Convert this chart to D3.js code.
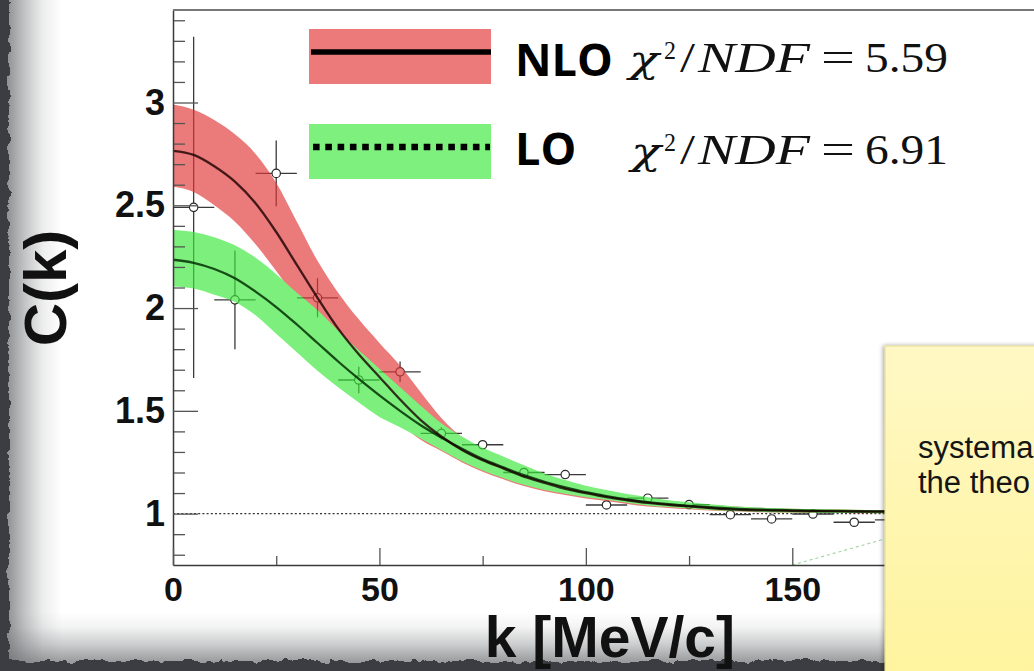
<!DOCTYPE html>
<html>
<head>
<meta charset="utf-8">
<script src="https://cdn.jsdelivr.net/npm/d3@7/dist/d3.min.js"></script>
<style>
  html, body { margin: 0; padding: 0; background: #fff; overflow: hidden; }
  svg { display: block; }
</style>
</head>
<body>
<svg id="chart" width="1034" height="671"></svg>
<script>
// Measured correlation function C(k), 10 MeV/c bins
const kBins = [5, 15, 25, 35, 45, 55, 65, 75, 85, 95, 105, 115, 125, 135, 145, 155, 165, 175];
const cData = [2.49, 2.04, 2.655, 2.05, 1.65, 1.69, 1.39, 1.335, 1.20, 1.19, 1.042, 1.075, 1.044, 0.995, 0.974, 0.998, 0.958, 0.97];
const cErr  = [0.83, 0.24, 0.16, 0.095, 0.065, 0.05, 0.03, 0.02, 0.015, 0.015, 0.012, 0.012, 0.01, 0.01, 0.01, 0.01, 0.01, 0.01];
const kBinHalfWidth = 5;

// Theory predictions sampled every 5 MeV/c
const kTheory = [0, 5, 10, 15, 20, 25, 30, 35, 40, 45, 50, 55, 60, 65, 70, 75, 80, 85, 90, 95,
                 100, 105, 110, 115, 120, 125, 130, 135, 140, 145, 150, 155, 160, 165, 170, 175, 180];
const nloCentral = [2.765, 2.745, 2.69, 2.615, 2.51, 2.37, 2.21, 2.05, 1.90, 1.775,
                    1.665, 1.555, 1.455, 1.375, 1.31, 1.26, 1.22, 1.18, 1.15, 1.12,
                    1.10, 1.08, 1.065, 1.052, 1.042, 1.035, 1.027, 1.021, 1.017, 1.015,
                    1.013, 1.012, 1.011, 1.01, 1.01, 1.01, 1.01];
const nloUpper = [2.99, 2.965, 2.915, 2.845, 2.75, 2.61, 2.42, 2.23, 2.075, 1.945,
                  1.83, 1.72, 1.59, 1.465, 1.372, 1.314, 1.27, 1.225, 1.185, 1.155,
                  1.13, 1.108, 1.09, 1.075, 1.062, 1.052, 1.043, 1.036, 1.031, 1.027,
                  1.024, 1.022, 1.02, 1.019, 1.018, 1.018, 1.018];
const nloLower = [2.59, 2.565, 2.50, 2.42, 2.31, 2.18, 2.04, 1.90, 1.77, 1.645,
                  1.535, 1.44, 1.359, 1.304, 1.249, 1.204, 1.167, 1.134, 1.109, 1.091,
                  1.074, 1.061, 1.047, 1.034, 1.027, 1.021, 1.015, 1.011, 1.008, 1.006,
                  1.004, 1.003, 1.003, 1.002, 1.002, 1.002, 1.002];
const loCentral = [2.235, 2.22, 2.19, 2.145, 2.08, 2.005, 1.92, 1.83, 1.74, 1.655,
                   1.575, 1.50, 1.43, 1.37, 1.315, 1.265, 1.225, 1.187, 1.155, 1.128,
                   1.104, 1.085, 1.069, 1.056, 1.046, 1.038, 1.031, 1.025, 1.021, 1.018,
                   1.016, 1.014, 1.013, 1.012, 1.011, 1.011, 1.011];
const loUpper = [2.38, 2.37, 2.345, 2.305, 2.245, 2.165, 2.075, 1.99, 1.89, 1.795,
                 1.705, 1.615, 1.525, 1.44, 1.375, 1.32, 1.278, 1.235, 1.195, 1.163,
                 1.135, 1.115, 1.095, 1.08, 1.065, 1.055, 1.045, 1.037, 1.031, 1.027,
                 1.024, 1.022, 1.02, 1.019, 1.018, 1.018, 1.018];
const loLower = [2.105, 2.095, 2.065, 2.03, 1.965, 1.875, 1.785, 1.695, 1.615, 1.54,
                 1.47, 1.42, 1.365, 1.31, 1.255, 1.21, 1.173, 1.14, 1.115, 1.097,
                 1.08, 1.067, 1.053, 1.04, 1.032, 1.025, 1.018, 1.013, 1.01, 1.007,
                 1.005, 1.004, 1.003, 1.003, 1.002, 1.002, 1.002];

// Faint dashed guide rising from the k axis
const guideK = [150, 173];
const guideC = [0.75, 0.88];

// Axis ticks
const xMajorTicks = [0, 50, 100, 150];
const xTickLabels = ["0", "50", "100", "150"];
const xMinorTicks = [25, 75, 125, 175];
const yMajorTicks = [1, 1.5, 2, 2.5, 3];
const yTickLabels = ["1", "1.5", "2", "2.5", "3"];
const yMinorTicks = [0.8, 0.9, 1.1, 1.2, 1.3, 1.4, 1.6, 1.7, 1.8, 1.9, 2.1, 2.2, 2.3, 2.4,
                     2.6, 2.7, 2.8, 2.9, 3.1, 3.2, 3.3, 3.4];

// Legend
const legendNames = ["NLO", "LO"];
const legendChi2 = ["5.59", "6.91"];

// Sticky note text
const noteLines = ["systema", "the theo"];

const svg = d3.select("#chart");
const W = 1034, H = 671;

const x = d3.scaleLinear().domain([0, 210]).range([173, 1040]);
const y = d3.scaleLinear().domain([0.75, 3.45]).range([565, 10]);

const defs = svg.append("defs");

// ragged paper edge
const rough = defs.append("filter").attr("id", "rough")
  .attr("x", "-10%").attr("y", "-10%").attr("width", "120%").attr("height", "120%");
rough.append("feTurbulence").attr("type", "fractalNoise").attr("baseFrequency", "0.09")
  .attr("numOctaves", 3).attr("seed", 4).attr("result", "noise");
rough.append("feDisplacementMap").attr("in", "SourceGraphic").attr("in2", "noise")
  .attr("scale", 9).attr("xChannelSelector", "R").attr("yChannelSelector", "G").attr("result", "disp");
rough.append("feGaussianBlur").attr("in", "disp").attr("stdDeviation", 0.6);

const shadeL = defs.append("linearGradient").attr("id", "shadeL")
  .attr("gradientUnits", "userSpaceOnUse").attr("x1", 8).attr("x2", 62).attr("y1", 0).attr("y2", 0);
[[0, 0.75], [0.3, 0.42], [0.65, 0.12], [1, 0]].forEach(([o, a]) =>
  shadeL.append("stop").attr("offset", o).attr("stop-color", "#6c6f72").attr("stop-opacity", a));
const shadeB = defs.append("linearGradient").attr("id", "shadeB")
  .attr("gradientUnits", "userSpaceOnUse").attr("x1", 0).attr("x2", 0).attr("y1", 662).attr("y2", 612);
[[0, 0.7], [0.35, 0.35], [0.7, 0.08], [1, 0]].forEach(([o, a]) =>
  shadeB.append("stop").attr("offset", o).attr("stop-color", "#6c6f72").attr("stop-opacity", a));

const noteGrad = defs.append("linearGradient").attr("id", "noteGrad")
  .attr("x1", 0).attr("x2", 0).attr("y1", 0).attr("y2", 1);
noteGrad.append("stop").attr("offset", 0).attr("stop-color", "#fff8c4");
noteGrad.append("stop").attr("offset", 1).attr("stop-color", "#fff39a");

const noteShadow = defs.append("filter").attr("id", "noteShadow")
  .attr("x", "-10%").attr("y", "-10%").attr("width", "120%").attr("height", "120%");
noteShadow.append("feDropShadow").attr("dx", -1.5).attr("dy", 0).attr("stdDeviation", 2)
  .attr("flood-color", "#000").attr("flood-opacity", 0.35);

defs.append("clipPath").attr("id", "plotClip").append("rect")
  .attr("x", x(0)).attr("y", y(3.45)).attr("width", x(210) - x(0)).attr("height", y(0.75) - y(3.45));

// paper background and edge shading
svg.append("rect").attr("width", W).attr("height", H).attr("fill", "#ffffff");
svg.append("rect").attr("x", 0).attr("y", 0).attr("width", 70).attr("height", H).attr("fill", "url(#shadeL)");
svg.append("rect").attr("x", 0).attr("y", 600).attr("width", W).attr("height", 71).attr("fill", "url(#shadeB)");

// ---- plot ----
const plot = svg.append("g").attr("clip-path", "url(#plotClip)");

// C = 1 reference line
plot.append("line")
  .attr("x1", x(0)).attr("x2", x(210)).attr("y1", y(1)).attr("y2", y(1))
  .attr("stroke", "#333").attr("stroke-width", 1.2).attr("stroke-dasharray", "2,2.2");

plot.append("path")
  .attr("d", d3.line().x((d, i) => x(guideK[i])).y(d => y(d))(guideC))
  .attr("fill", "none").attr("stroke", "#9ed59e").attr("stroke-width", 1.1).attr("stroke-dasharray", "3,3");

// data points with error bars
const pts = plot.append("g");
kBins.forEach((k, i) => {
  const g = pts.append("g");
  g.append("line").attr("x1", x(k - kBinHalfWidth)).attr("x2", x(k + kBinHalfWidth))
    .attr("y1", y(cData[i])).attr("y2", y(cData[i]))
    .attr("stroke", "#3a3a3a").attr("stroke-width", 1.3);
  g.append("line").attr("x1", x(k)).attr("x2", x(k))
    .attr("y1", y(cData[i] - cErr[i])).attr("y2", y(cData[i] + cErr[i]))
    .attr("stroke", "#3a3a3a").attr("stroke-width", 1.3);
  g.append("circle").attr("cx", x(k)).attr("cy", y(cData[i])).attr("r", 4.2)
    .attr("fill", "#fff").attr("stroke", "#2a2a2a").attr("stroke-width", 1.2);
});

// theory bands
const band = (lo, hi) => d3.area()
  .x((d, i) => x(kTheory[i]))
  .y0((d, i) => y(lo[i]))
  .y1((d, i) => y(hi[i]))
  .curve(d3.curveMonotoneX)(kTheory);
const bands = plot.append("g").attr("opacity", 0.66);
bands.append("path").attr("d", band(nloLower, nloUpper)).attr("fill", "#e23636");
bands.append("path").attr("d", band(loLower, loUpper)).attr("fill", "#3ae83a");

const curve = vals => d3.line()
  .x((d, i) => x(kTheory[i])).y(d => y(d)).curve(d3.curveMonotoneX)(vals);
plot.append("path").attr("d", curve(loCentral))
  .attr("fill", "none").attr("stroke", "#053005").attr("stroke-opacity", 0.85).attr("stroke-width", 2.3);
plot.append("path").attr("d", curve(nloCentral))
  .attr("fill", "none").attr("stroke", "#1a0000").attr("stroke-opacity", 0.8).attr("stroke-width", 2.3);

// ---- axes ----
const styleAxis = (g, size) => {
  g.selectAll("line").attr("stroke", "#555").attr("stroke-width", 1.3);
  g.selectAll("path.domain").attr("stroke", "#3a3a3a").attr("stroke-width", 1.5);
  g.selectAll("text").attr("font-family", "'Liberation Sans', Arial, sans-serif")
    .attr("font-weight", "bold").attr("font-size", size).attr("fill", "#111");
};

const yMinorG = svg.append("g").attr("transform", `translate(${x(0)},0)`)
  .call(d3.axisLeft(y).tickValues(yMinorTicks).tickSize(-12).tickSizeOuter(0).tickFormat(""));
yMinorG.select("path.domain").remove();
styleAxis(yMinorG, 36);
const yMajorG = svg.append("g").attr("transform", `translate(${x(0)},0)`)
  .call(d3.axisLeft(y).tickValues(yMajorTicks).tickSize(-25).tickSizeOuter(0).tickPadding(8)
    .tickFormat((d, i) => yTickLabels[i]));
styleAxis(yMajorG, 36);

const xMinorG = svg.append("g").attr("transform", `translate(0,${y(0.75)})`)
  .call(d3.axisBottom(x).tickValues(xMinorTicks).tickSize(-9).tickSizeOuter(0).tickFormat(""));
xMinorG.select("path.domain").remove();
styleAxis(xMinorG, 34);
const xMajorG = svg.append("g").attr("transform", `translate(0,${y(0.75)})`)
  .call(d3.axisBottom(x).tickValues(xMajorTicks).tickSize(-17).tickSizeOuter(0).tickPadding(12)
    .tickFormat((d, i) => xTickLabels[i]));
styleAxis(xMajorG, 34);

// top edge of the frame
svg.append("line").attr("x1", x(0)).attr("x2", x(210)).attr("y1", y(3.45)).attr("y2", y(3.45))
  .attr("stroke", "#777").attr("stroke-width", 1.8);

// ---- legend ----
const legend = svg.append("g");
const rowTop = [29, 124];
const boxFill = ["#ed7a7a", "#7ef07e"];
const textBase = [76, 165];
const mathBase = [72, 164];
const chiX = [629, 631];
legendNames.forEach((name, i) => {
  legend.append("rect").attr("x", 309).attr("y", rowTop[i]).attr("width", 182).attr("height", 55)
    .attr("fill", boxFill[i]);
  const ly = rowTop[i] + 23;
  legend.append("line").attr("x1", i === 0 ? 311 : 313).attr("x2", i === 0 ? 491 : 490)
    .attr("y1", ly).attr("y2", ly).attr("stroke", "#000")
    .attr("stroke-width", i === 0 ? 5.5 : 6.5)
    .attr("stroke-dasharray", i === 0 ? null : "6.6,5.7");
  legend.append("text").attr("x", 515).attr("y", textBase[i]).text(name)
    .attr("font-family", "'Open Sans', 'Liberation Sans', sans-serif").attr("font-weight", "bold")
    .attr("font-size", 45).attr("fill", "#000");

  const mb = mathBase[i];
  const serif = "'Liberation Serif', 'DejaVu Serif', serif";
  const mt = (tx, xx, yy, size, italic, len, fam) => {
    const t = legend.append("text").attr("x", xx).attr("y", yy).text(tx)
      .attr("font-family", fam || serif).attr("font-size", size).attr("fill", "#111")
      .attr("font-style", italic ? "italic" : "normal");
    if (len) t.attr("textLength", len).attr("lengthAdjust", "spacingAndGlyphs");
  };
  mt("χ", chiX[i], mb, 38, true, 30, "'DejaVu Serif', serif");
  mt("2", 664, mb - 13, 25, false, 12);
  mt("/", 680, mb, 42, false, 15);
  mt("NDF", 698, mb, 42, true, 112);
  mt("=", 821, mb - 1, 42, false, 34);
  mt(legendChi2[i], 865, mb, 42, false, 83);
});

// ---- axis titles ----
svg.append("text").attr("transform", "translate(66,288) rotate(-90)")
  .attr("text-anchor", "middle").text("C(k)")
  .attr("font-family", "'Liberation Sans', Arial, sans-serif").attr("font-weight", "bold")
  .attr("font-size", 60).attr("fill", "#111");

// ---- torn dark border ----
svg.append("path")
  .attr("d", "M-60,-60 H1120 V740 H-60 Z M9,-80 V661 H1120 V-80 Z")
  .attr("fill-rule", "evenodd").attr("fill", "#3b3e42").attr("filter", "url(#rough)");

svg.append("text").attr("x", 735).attr("y", 657).attr("text-anchor", "end").text("k [MeV/c]")
  .attr("font-family", "'Liberation Sans', Arial, sans-serif").attr("font-weight", "bold")
  .attr("font-size", 57).attr("fill", "#111");

// ---- sticky note ----
const note = svg.append("g");
note.append("rect").attr("x", 885).attr("y", 346).attr("width", 200).attr("height", 360)
  .attr("fill", "url(#noteGrad)").attr("stroke", "#e3d98e").attr("stroke-width", 1)
  .attr("filter", "url(#noteShadow)");
noteLines.forEach((s, i) => {
  note.append("text").attr("x", 918).attr("y", 458 + i * 35).text(s)
    .attr("font-family", "'Liberation Sans', Arial, sans-serif")
    .attr("font-size", 31).attr("fill", "#151515");
});
</script>
</body>
</html>
